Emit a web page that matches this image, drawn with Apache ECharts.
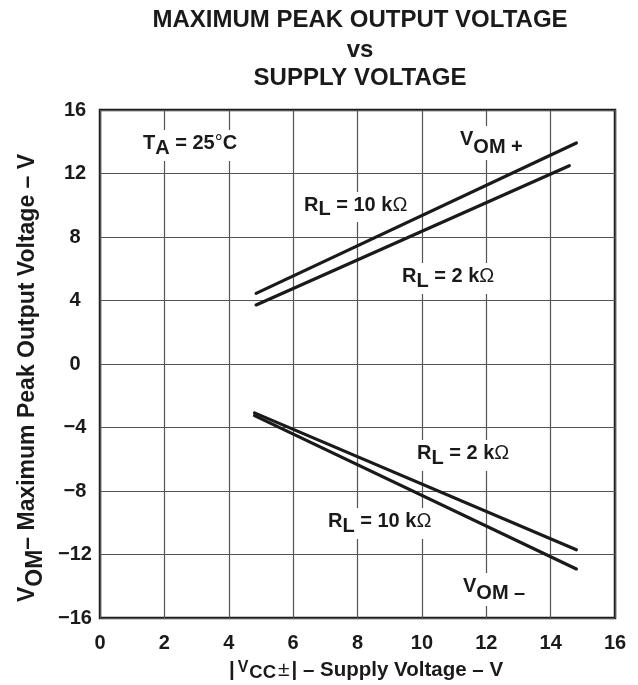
<!DOCTYPE html>
<html>
<head>
<meta charset="utf-8">
<script src="https://cdn.jsdelivr.net/npm/echarts@6/dist/echarts.min.js"></script>
<style>
html,body{margin:0;padding:0;background:#fff;}
#c{width:638px;height:685px;}
</style>
</head>
<body>
<div id="c"></div>
<script>
// ---- data ----
const xTickValues = [0, 2, 4, 6, 8, 10, 12, 14, 16];
const yTickValues = [-16, -12, -8, -4, 0, 4, 8, 12, 16];

const vccPos10k = [4.85, 14.8];
const vomPos10k = [4.45, 13.92];
const vccPos2k  = [4.85, 14.58];
const vomPos2k  = [3.72, 12.49];
const vccNeg2k  = [4.8, 14.8];
const vomNeg2k  = [-3.08, -11.7];
const vccNeg10k = [4.8, 14.8];
const vomNeg10k = [-3.25, -12.91];

const titleLines = ['MAXIMUM PEAK OUTPUT VOLTAGE', 'vs', 'SUPPLY VOLTAGE'];

// ---- helpers ----
const FONT = '"Liberation Sans", Arial, Helvetica, sans-serif';
const INK = '#1a1a1a';
function zip(xs, ys) { return xs.map((x, i) => [x, ys[i]]); }
function fmt(v) { return v < 0 ? '\u2212' + (-v) : String(v); }

function lineSeries(name, xs, ys) {
  return {
    name: name, type: 'line', data: zip(xs, ys), symbol: 'none',
    lineStyle: { color: INK, width: 3.2, cap: 'round' },
    silent: true, animation: false, z: 5
  };
}

function tok(fs, weight, lh, va, pad) {
  const t = { fontSize: fs, fontWeight: weight, fontFamily: FONT, fill: INK, color: INK, lineHeight: lh, verticalAlign: va };
  if (pad) t.padding = pad;
  return t;
}

function ann(x, y, text, d) {
  return {
    type: 'text', x: x, y: y, z: 1,
    style: {
      text: text,
      rich: {
        n: tok(20, 'bold', 20, 'top'),
        s: tok(20, 'bold', 20 + d, 'bottom'),
        t: tok(20, 'normal', 20, 'top')
      },
      align: 'left', verticalAlign: 'top',
      backgroundColor: '#fff', padding: [3, 3, 3, 3], fill: INK
    }
  };
}

const chart = echarts.init(document.getElementById('c'), null, { renderer: 'canvas' });

const option = {
  backgroundColor: '#fff',
  animation: false,
  textStyle: { fontFamily: FONT },
  grid: {
    left: 100, top: 110, right: 23, bottom: 67,
    show: true, borderColor: INK, borderWidth: 2.5, backgroundColor: 'transparent'
  },
  xAxis: {
    type: 'value', min: 0, max: 16, interval: 2,
    axisLine: { show: false }, axisTick: { show: false },
    splitLine: { show: true, lineStyle: { color: '#555', width: 1.2 } },
    axisLabel: {
      fontSize: 20, fontWeight: 'bold', color: INK, fontFamily: FONT,
      margin: 25, verticalAlign: 'middle',
      formatter: function (v) { return xTickValues.indexOf(v) >= 0 ? fmt(v) : ''; }
    }
  },
  yAxis: {
    type: 'value', min: -16, max: 16, interval: 4,
    axisLine: { show: false }, axisTick: { show: false },
    splitLine: { show: true, lineStyle: { color: '#555', width: 1.2 } },
    axisLabel: {
      fontSize: 20, fontWeight: 'bold', color: INK, fontFamily: FONT,
      margin: 25, align: 'center', padding: [5, 0, 0, 0],
      formatter: function (v) { return yTickValues.indexOf(v) >= 0 ? fmt(v) : ''; }
    }
  },
  series: [
    lineSeries('VOM+ RL=10k', vccPos10k, vomPos10k),
    lineSeries('VOM+ RL=2k', vccPos2k, vomPos2k),
    lineSeries('VOM- RL=2k', vccNeg2k, vomNeg2k),
    lineSeries('VOM- RL=10k', vccNeg10k, vomNeg10k)
  ],
  graphic: [
    { type: 'text', x: 360, y: 20.5, style: { text: titleLines[0], font: 'bold 24px ' + FONT, fill: INK, align: 'center', verticalAlign: 'middle' } },
    { type: 'text', x: 360, y: 50.5, style: { text: titleLines[1], font: 'bold 24px ' + FONT, fill: INK, align: 'center', verticalAlign: 'middle' } },
    { type: 'text', x: 360, y: 78, style: { text: titleLines[2], font: 'bold 24px ' + FONT, fill: INK, align: 'center', verticalAlign: 'middle' } },
    // x axis name
    {
      type: 'text', x: 366, y: 671,
      style: {
        text: '{n||}{v|V}{c|CC}{pm|\u00B1}{n|| \u2013 Supply Voltage \u2013 V}',
        align: 'center', verticalAlign: 'middle', fill: INK,
        rich: {
          n: tok(20.5, 'bold', 20.5, 'top'),
          v: tok(16, 'bold', 16, 'top', [0, 1, 0, 3]),
          c: tok(18.5, 'bold', 23, 'bottom', [0, 2, 0, 0]),
          pm: tok(21, 'normal', 21, 'top', [0, 2, 0, 0])
        }
      }
    },
    // y axis name
    {
      type: 'text', x: 32, y: 378, rotation: Math.PI / 2,
      style: {
        text: '{n|V}{s|OM}{n|\u2013 Maximum Peak Output Voltage \u2013 V}',
        align: 'center', verticalAlign: 'middle', fill: INK,
        rich: {
          n: tok(23, 'bold', 23, 'top'),
          s: tok(23, 'bold', 31, 'bottom')
        }
      }
    },
    ann(140, 130, '{n|T}{s|A}{n| = 25}{t|\u00B0}{n|C}', 5),
    ann(301, 192, '{n|R}{s|L}{n| = 10 k}{t|\u03A9}', 4),
    ann(399, 263, '{n|R}{s|L}{n| = 2 k}{t|\u03A9}', 5),
    ann(457, 126, '{n|V}{s|OM +}', 8),
    ann(414, 440, '{n|R}{s|L}{n| = 2 k}{t|\u03A9}', 5),
    ann(325, 508, '{n|R}{s|L}{n| = 10 k}{t|\u03A9}', 5),
    ann(460, 573, '{n|V}{s|OM \u2013}', 7)
  ]
};

chart.setOption(option);
</script>
</body>
</html>
